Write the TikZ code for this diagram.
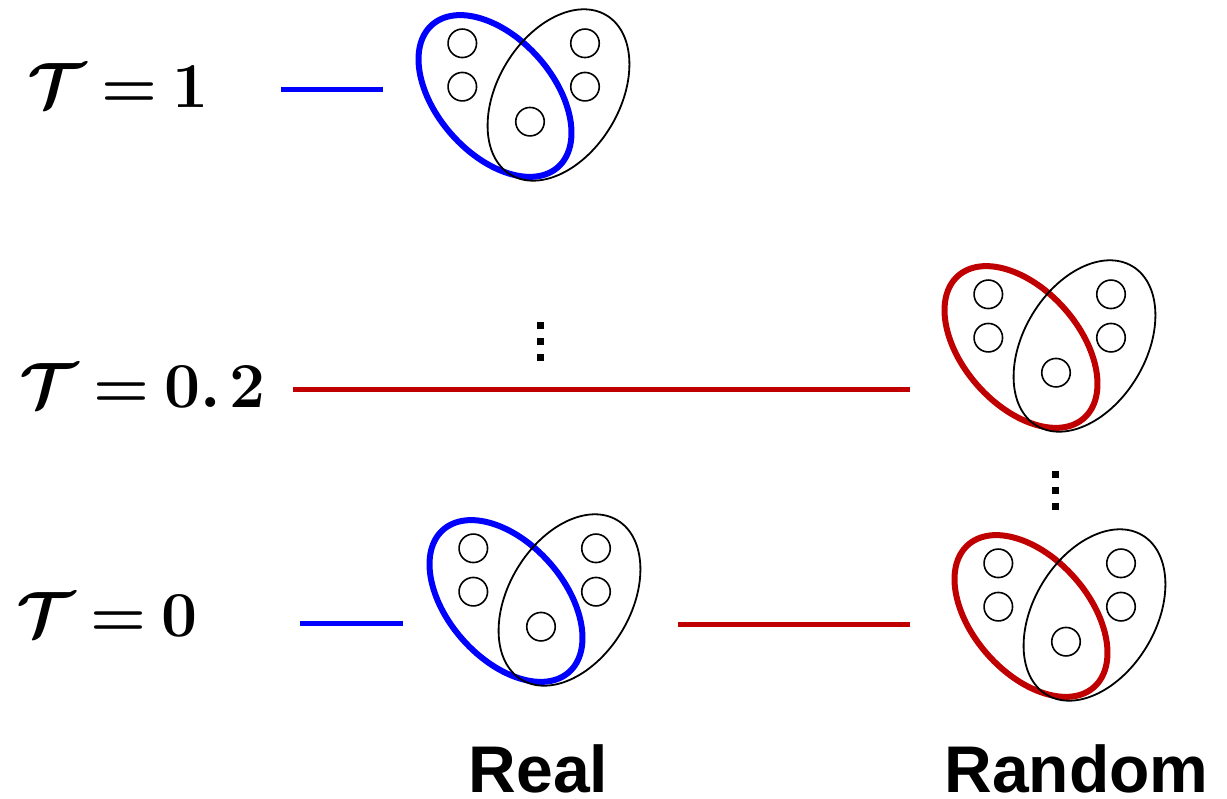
\documentclass[tikz,border=0pt]{standalone}
\usepackage{fix-cm}
\usepackage{fontspec}
\setsansfont{Liberation Sans}
\definecolor{hblue}{RGB}{0,0,255}
\definecolor{hred}{RGB}{192,0,0}
\newcommand{\tlab}[1]{$\thickmuskip=3.8mu\relax #1$}
\tikzset{
  vertex/.style={circle, draw=black, line width=1.6pt, minimum size=28.5pt, inner sep=0pt},
  sel/.style={line width=6pt},
  other/.style={draw=black, line width=1.8pt},
  link/.style={line width=5pt},
  tlabel/.style={anchor=base west, inner sep=0pt, font=\fontsize{64}{64}\selectfont\boldmath},
  caption/.style={anchor=base, inner sep=0pt, font=\fontsize{66}{66}\selectfont\sffamily\bfseries},
  dotsq/.style={fill=black, draw=none, minimum size=7pt, inner sep=0pt, rectangle},
  pics/hgraph/.style={code={
    \draw[sel, draw=#1, rotate=-48.5] (0,0) ellipse[x radius=95pt, y radius=58pt];
    \draw[other, shift={(63.5,-1)}, rotate=59] (0,0) ellipse[x radius=93pt, y radius=61pt];
    \node[vertex] (-v1) at (-32.7,-52.7) {};
    \node[vertex] (-v2) at (-32.7,-9.3) {};
    \node[vertex] (-v3) at (90,-52.7) {};
    \node[vertex] (-v4) at (90,-9.3) {};
    \node[vertex] (-v5) at (35,25.7) {};
  }}
}
\begin{document}
\begin{tikzpicture}[x=1pt, y=-1pt]
\useasboundingbox (0,0) rectangle (1227,799);
% labels
\node[tlabel] (t1) at (27,108) {\tlab{\mathcal{T} = \mathbf{1}}};
\node[tlabel] (t2) at (19,408) {\tlab{\mathcal{T} = \mathbf{0.\mskip2mu 2}}};
\node[tlabel] (t0) at (16,636) {\tlab{\mathcal{T} = \mathbf{0}}};
% hypergraphs
\pic (g1) at (495,96) {hgraph=hblue};
\pic (g2) at (1021,347) {hgraph=hred};
\pic (g3) at (506,601) {hgraph=hblue};
\pic (g4) at (1031,616) {hgraph=hred};
% lines
\coordinate (a1) at (281,89.5); \coordinate (b1) at (383,89.5);
\draw[link, hblue] (a1) -- (b1);
\coordinate (a2) at (293,389.5); \coordinate (b2) at (910,389.5);
\draw[link, hred] (a2) -- (b2);
\coordinate (a3) at (300,623.5); \coordinate (b3) at (403,623.5);
\draw[link, hblue] (a3) -- (b3);
\coordinate (a4) at (678,624.5); \coordinate (b4) at (910,624.5);
\draw[link, hred] (a4) -- (b4);
% dots
\node[dotsq] (d1) at (540.7,326) {};
\node[dotsq] (d2) at (540.7,342) {};
\node[dotsq] (d3) at (540.7,358) {};
\node[dotsq] (e1) at (1055,474.7) {};
\node[dotsq] (e2) at (1055,490.7) {};
\node[dotsq] (e3) at (1055,506.7) {};
% captions
\node[caption] (real) at (538.5,792) {Real};
\node[caption] (rand) at (1076.5,792) {Random};
\end{tikzpicture}
\end{document}
